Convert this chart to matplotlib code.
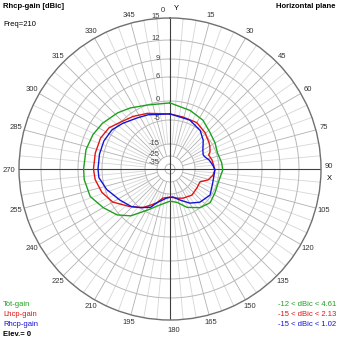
import numpy as np
import matplotlib
matplotlib.use('Agg')
import matplotlib.pyplot as plt

plt.rcParams['font.family'] = ['Liberation Sans', 'DejaVu Sans']

# ring values (dBic) and where they sit on the chart (outer ring = 151)
ring_db = [-45, -35, -25, -15, -5, 0, 6, 9, 12, 15]
ring_r = [0, 5, 13, 25, 49, 68, 92, 110, 129, 151]
ring_labels = [-35, -25, -15, -5, 0, 6, 9, 12, 15]

# horizontal plane pattern, azimuth in degrees (0 = Y, clockwise)
tot_az = [0, 19, 34, 47, 60, 71, 83, 91, 105, 118, 130, 142, 156, 168, 180, 195,
          209, 220, 229, 240, 251, 263, 270, 283, 294, 304, 317, 327, 340]
tot_db = [-0.5, -1.6, -2.4, -3.6, -4.2, -4.7, -4.2, -4.0, -4.7, -4.5, -4.1, -5.0, -7.9,
          -11.2, -12.0, -10.0, -5.8, -1.8, 0.5, 2.3, 4.1, 4.61, 4.6, 4.55, 4.1, 3.4,
          2.2, 1.2, 0.0]

lhcp_az = [0, 14, 30, 44, 56, 61, 67, 70, 78, 91, 98, 106, 113, 125, 140, 156, 166,
           180, 194, 201, 207, 215, 227, 240, 251, 262, 270, 282, 294, 304, 313, 325, 338]
lhcp_db = [-3.4, -3.8, -3.8, -4.6, -5.8, -6.4, -7.3, -8.3, -7.5, -6.7, -7.3, -8.9,
           -11.8, -11.7, -11.2, -12.1, -12.9, -13.7, -12.9, -10.4, -8.7, -5.8, -3.4,
           -0.5, 1.0, 1.9, 2.13, 2.1, 2.0, 1.4, 0.1, -1.0, -2.1]

rhcp_az = [0, 22, 38, 49, 52, 60, 67, 71, 77, 85, 91, 108, 123, 138, 150, 162, 174,
           186, 201, 207, 218, 226, 238, 252, 263, 270, 282, 293, 304, 314, 327, 338]
rhcp_db = [-3.4, -4.0, -5.0, -7.1, -7.9, -9.6, -10.4, -10.0, -8.7, -7.5, -6.7, -6.7,
           -5.5, -6.8, -9.0, -11.8, -13.7, -13.3, -10.4, -7.5, -5.0, -3.7, -2.4, -0.4,
           0.9, 1.0, 1.02, 0.95, 0.5, -0.6, -1.9, -2.5]

green = '#1ea01e'
red = '#e01414'
blue = '#1414d2'


def fwd(v):
    return np.interp(v, ring_db, ring_r)


def inv(r):
    return np.interp(r, ring_r, ring_db)


def closed(az, db):
    t = np.radians(az + az[:1])
    return t, np.array(db + db[:1])


W = 339
CX, CY, R = 170, 169, 151
fig = plt.figure(figsize=(W / 100, W / 100), dpi=100)
fig.patch.set_facecolor('white')
ax = fig.add_axes([(CX - R) / W, (W - CY - R) / W, 2 * R / W, 2 * R / W], projection='polar')
ax.set_theta_zero_location('N')
ax.set_theta_direction(-1)
ax.set_rscale('function', functions=(fwd, inv))
ax.set_rlim(-45, 15)
ax.set_xticks([])
ax.set_yticks([])
ax.grid(False)
ax.spines['polar'].set_edgecolor('#707070')
ax.spines['polar'].set_linewidth(1.0)

# grid: rings, 5 deg spokes, 15 deg spokes
th = np.linspace(0, 2 * np.pi, 721)
for v in ring_labels[:-1]:
    ax.plot(th, np.full_like(th, v), color='#b8b8b8', lw=0.7, zorder=1)
for a in range(0, 360, 5):
    if a % 15:
        ax.plot([np.radians(a)] * 2, [-15, 15], color='#d6d6d6', lw=0.6, zorder=0.5)
    else:
        ax.plot([np.radians(a)] * 2, [-25, 15], color='#b0b0b0', lw=0.6, zorder=0.8)
for a in (0, 90, 180, 270):
    ax.plot([np.radians(a)] * 2, [-45, 15], color='#404040', lw=0.8, zorder=1.5)


def px(x, y, s, **kw):
    kw.setdefault('fontsize', 5.5)
    fig.text(x / W, 1 - y / W, s, **kw)


# ring labels just left of the vertical axis
for v in ring_labels:
    y = CY - fwd(v) - 1
    px(160, y, str(v), ha='right', va='center', color='#444444', zorder=3)

# curves
for az, db, c in ((tot_az, tot_db, green), (lhcp_az, lhcp_db, red), (rhcp_az, rhcp_db, blue)):
    t, d = closed(az, db)
    ax.plot(t, d, color=c, lw=1.0, zorder=4)

# azimuth labels
for a in range(15, 360, 15):
    if a in (90, 180, 270):
        continue
    x = CX + 159 * np.sin(np.radians(a))
    y = CY - 159 * np.cos(np.radians(a))
    px(x, y, str(a), color='#333333', ha='center', va='center')

px(163, 11, '0', ha='center', va='center', color='#333333')
px(176, 9, 'Y', ha='center', va='center', color='black')
px(329, 167, '90', ha='center', va='center', color='#333333')
px(329, 178, 'X', ha='center', va='center', color='black')
px(174, 330, '180', ha='center', va='center', color='#333333')
px(9, 170, '270', ha='center', va='center', color='#333333')

px(3, 7, 'Rhcp-gain [dBic]', ha='left', va='center', fontweight='bold')
px(3, 24, 'Freq=210', ha='left', va='center')
px(336, 7, 'Horizontal plane', ha='right', va='center', fontweight='bold')

px(3, 304, 'Tot-gain', ha='left', va='center', color=green)
px(3, 314, 'Lhcp-gain', ha='left', va='center', color=red)
px(3, 324, 'Rhcp-gain', ha='left', va='center', color=blue)
px(3, 335, 'Elev.= 0', ha='left', va='center', color='black', fontweight='bold')

px(336, 304, '-12 < dBic < %.2f' % max(tot_db), ha='right', va='center', color=green)
px(336, 314, '-15 < dBic < %.2f' % max(lhcp_db), ha='right', va='center', color=red)
px(336, 324, '-15 < dBic < %.2f' % max(rhcp_db), ha='right', va='center', color=blue)

fig.savefig('out.png', dpi=100, facecolor='white')
